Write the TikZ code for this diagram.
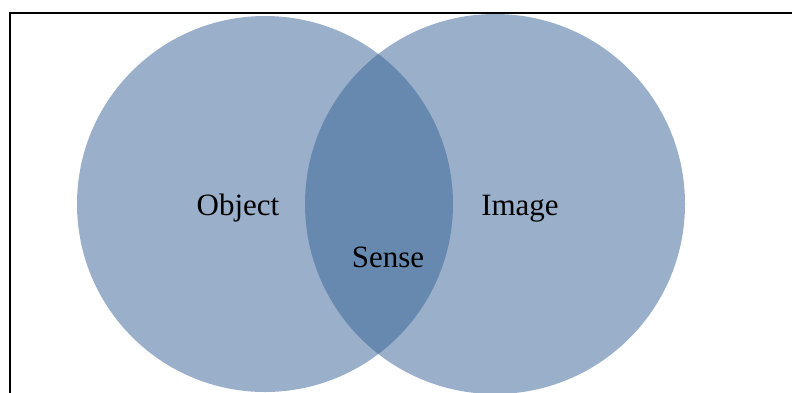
\documentclass[tikz,border=0pt]{standalone}
\usepackage{fontspec}
\setmainfont{Liberation Serif}
\definecolor{setfill}{RGB}{154,175,201}
\definecolor{lensfill}{RGB}{103,136,175}
\tikzset{
  setlabel/.style={anchor=base, inner sep=0pt, font=\fontsize{31}{37}\selectfont, text=black},
  frameline/.style={line width=2.2pt, black}
}
\begin{document}
\begin{tikzpicture}[x=1pt,y=-1pt]
  \useasboundingbox (0,0) rectangle (792,392);
  \clip (0,0) rectangle (792,392);
  % partial frame
  \coordinate (fbl) at (10,400);
  \coordinate (ftl) at (10,13);
  \coordinate (ftr) at (800,13);
  \draw[frameline] (fbl) -- (ftl) -- (ftr);
  % the two sets
  \coordinate (cl) at (265,204);
  \coordinate (cr) at (495,204);
  \fill[setfill] (cl) circle[radius=188];
  \fill[setfill] (cr) circle[radius=190];
  % their overlap
  \begin{scope}
    \clip (cl) circle[radius=188];
    \fill[lensfill] (cr) circle[radius=190];
  \end{scope}
  % labels
  \node[setlabel] (object) at (238,215) {Object};
  \node[setlabel] (image) at (520,215) {Image};
  \node[setlabel] (sense) at (388,267) {Sense};
\end{tikzpicture}
\end{document}
